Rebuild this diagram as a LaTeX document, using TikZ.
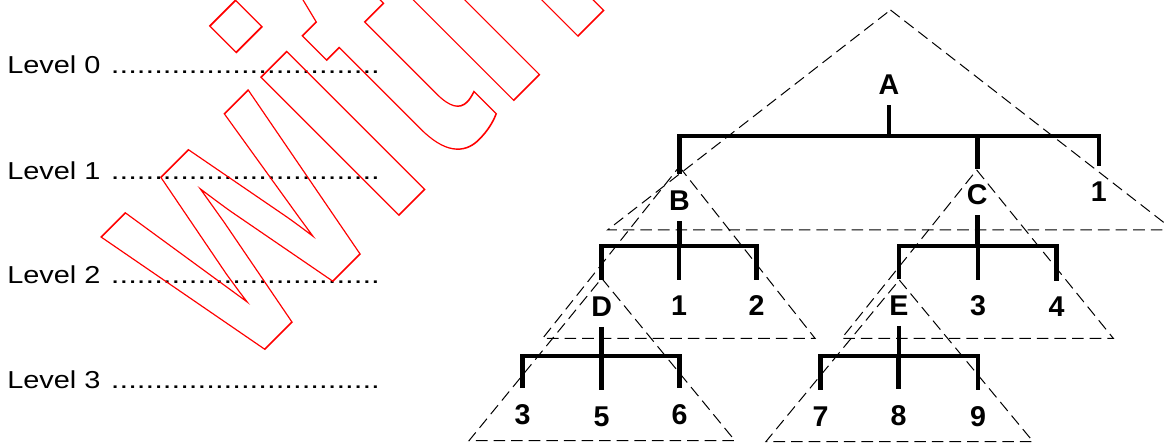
\documentclass[tikz,border=0pt]{standalone}
\usepackage{fontspec}
\setmainfont{Liberation Sans}
% glyphs stroked in red, not filled
\newcommand\outlinetext[1]{\special{pdf:literal direct 1 Tr 1 0 0 RG 0.8 w}#1\special{pdf:literal direct 0 Tr}}
\begin{document}
\begin{tikzpicture}[x=0.5pt,y=-0.5pt,
  lvltext/.style={inner sep=0pt, anchor=base west, font=\fontsize{12.25pt}{14pt}\selectfont},
  lab/.style={inner sep=0pt, anchor=base, text height=18pt, text depth=5pt,
    font=\fontsize{14.3pt}{16pt}\selectfont\bfseries},
  tree/.style={line width=2.25pt, line join=miter, line cap=butt},
  tri/.style={line width=0.5pt, dash pattern=on 5.8pt off 3pt}]
\useasboundingbox (0,0) rectangle (1168,443);

% level captions with dotted leaders
\foreach \n/\yy in {0/74,1/179.3,2/284,3/388}{
  \node[lvltext] (lev\n) at (6.9,\yy) {\scalebox{1.18}[1]{Level \n}};
  \node[lvltext] (dots\n) at (110.5,\yy) {\scalebox{1.274}[1]{...............................}};
}

% level rails of the tree
\coordinate (y1) at (0,136);
\coordinate (y2) at (0,246);
\coordinate (y3) at (0,356);

% labels
\node[lab] (A)  at (889,95) {A};
\node[lab] (B)  at (679.5,210.7) {B};
\node[lab] (C)  at (977.3,205) {C};
\node[lab] (a1) at (1098.8,202) {1};
\node[lab] (D)  at (601.7,316.5) {D};
\node[lab] (b1) at (679,316) {1};
\node[lab] (b2) at (756.5,316) {2};
\node[lab] (E)  at (899,315.5) {E};
\node[lab] (c3) at (978,316) {3};
\node[lab] (c4) at (1056.5,317) {4};
\node[lab] (d3) at (522.5,424.5) {3};
\node[lab] (d5) at (601.5,426) {5};
\node[lab] (d6) at (679.5,424.5) {6};
\node[lab] (e7) at (820.5,426) {7};
\node[lab] (e8) at (898.5,425) {8};
\node[lab] (e9) at (978,426) {9};

% subtree outlines
\draw[tri] (890.5,10) -- (1173.5,230) -- (607.5,230) -- cycle;
\draw[tri] (679.3,166.7) -- (815,338.3) -- (542.7,338.3) -- cycle;
\draw[tri] (976.7,170) -- (1113.3,338.3) -- (841.7,338.3) -- cycle;
\draw[tri] (601.7,278.3) -- (735,440.7) -- (469,440.7) -- cycle;
\draw[tri] (899.3,280) -- (1033,441.5) -- (766,441.5) -- cycle;

% tree edges
\draw[tree] (A.south) -- (A.south |- y1);
\draw[tree] (B.north) -- (B.north |- y1) -- (a1.north |- y1) -- (a1.north);
\draw[tree] (C.north) -- (C.north |- y1);

\draw[tree] (B.south) -- (B.south |- y2);
\draw[tree] (D.north) -- (D.north |- y2) -- (b2.north |- y2) -- (b2.north);
\draw[tree] (b1.north) -- (b1.north |- y2);

\draw[tree] (C.south) -- (C.south |- y2);
\draw[tree] (E.north) -- (E.north |- y2) -- (c4.north |- y2) -- (c4.north);
\draw[tree] (c3.north) -- (c3.north |- y2);

\draw[tree] (D.south) -- (D.south |- y3);
\draw[tree] (d3.north) -- (d3.north |- y3) -- (d6.north |- y3) -- (d6.north);
\draw[tree] (d5.north) -- (d5.north |- y3);

\draw[tree] (E.south) -- (E.south |- y3);
\draw[tree] (e7.north) -- (e7.north |- y3) -- (e9.north |- y3) -- (e9.north);
\draw[tree] (e8.north) -- (e8.north |- y3);

% outlined stamp
\begin{scope}[shift={(239.4,374.6)}]
  \node[inner sep=0pt, anchor=base west, rotate=45, xscale=0.72,
        font=\fontsize{184.5pt}{190pt}\selectfont\bfseries] (stamp) at (0,0)
    {\outlinetext{with}};
\end{scope}
\end{tikzpicture}
\end{document}
